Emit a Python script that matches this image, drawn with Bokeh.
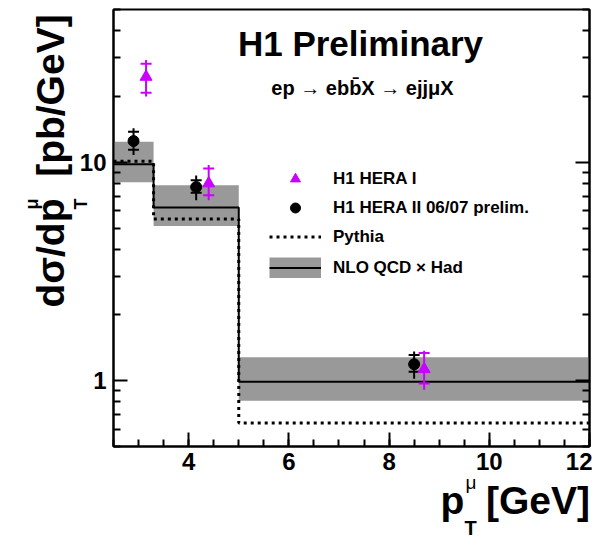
import math
from bokeh.plotting import figure
from bokeh.models import (Range1d, FixedTicker, SingleIntervalTicker, LogAxis, Label,
                          Legend, LegendItem, PrintfTickFormatter, CustomJSTickFormatter)
from bokeh.embed import file_html
from bokeh.resources import INLINE

# ---------------- data ----------------
bin_edges = [2.5, 3.3, 5.0, 12.0]
nlo_central = [9.8, 6.2, 0.99]
nlo_low = [8.1, 5.1, 0.81]
nlo_high = [12.4, 7.85, 1.28]
pythia = [10.1, 5.5, 0.64]

hera2_x = [2.9, 4.15, 8.5]
hera2_y = [12.5, 7.7, 1.19]
hera2_tot_lo = [10.8, 6.7, 1.02]
hera2_tot_hi = [14.3, 8.7, 1.36]
hera2_stat_lo = [11.4, 7.24, 1.10]
hera2_stat_hi = [13.8, 8.27, 1.31]

hera1_x = [3.15, 4.4, 8.7]
hera1_y = [24.6, 8.0, 1.13]
hera1_tot_lo = [20.0, 6.7, 0.91]
hera1_tot_hi = [29.4, 9.7, 1.37]
hera1_stat_lo = [20.8, 7.06, 0.97]
hera1_stat_hi = [28.2, 9.36, 1.34]

y_major_ticks = [1, 10]
y_minor_ticks = [0.5, 0.6, 0.7, 0.8, 0.9, 2, 3, 4, 5, 6, 7, 8, 9, 20, 30, 40, 50]

X_MIN, X_MAX = 2.5, 12.0
Y_MIN, Y_MAX = 0.5, 50.0

MAGENTA = "#cc00ff"
GREY = "#999999"
FONT = "Liberation Sans"

# frame in canvas pixels
FL, FR, FT, FB = 113, 589, 9, 446

p = figure(width=592, height=540, x_range=Range1d(X_MIN, X_MAX), y_range=Range1d(Y_MIN, Y_MAX),
           y_axis_type="log", output_backend="svg", toolbar_location=None,
           min_border_left=FL, min_border_right=592 - FR, min_border_top=FT,
           min_border_bottom=540 - FB)
p.grid.visible = False
p.outline_line_color = "black"
p.outline_line_width = 2
p.background_fill_color = "white"
p.border_fill_color = "white"

yt = FixedTicker(ticks=y_major_ticks, minor_ticks=y_minor_ticks)
for ax in p.yaxis:
    ax.ticker = yt
    ax.formatter = PrintfTickFormatter(format="%d")
for ax in p.xaxis:
    ax.ticker = SingleIntervalTicker(interval=2, num_minor_ticks=4)

def style_axis(ax):
    ax.axis_line_width = 2
    ax.major_tick_in = 14
    ax.major_tick_out = 0
    ax.minor_tick_in = 7
    ax.minor_tick_out = 0
    ax.major_tick_line_width = 2
    ax.minor_tick_line_width = 2
    ax.major_label_text_font = FONT
    ax.major_label_text_font_style = "bold"
    ax.major_label_text_font_size = "24px"
    ax.major_label_text_color = "black"

for ax in p.xaxis + p.yaxis:
    style_axis(ax)
p.yaxis.major_label_standoff = 7
p.xaxis.major_label_standoff = 6

rax = LogAxis(ticker=yt, formatter=CustomJSTickFormatter(code="return ''"))
style_axis(rax)
rax.major_label_text_font_size = "0px"
rax.major_label_standoff = 0
p.add_layout(rax, "right")

# ---------------- theory ----------------
band = p.quad(left=bin_edges[:-1], right=bin_edges[1:], bottom=nlo_low, top=nlo_high,
              fill_color=GREY, line_alpha=0)
step_y = nlo_central + [nlo_central[-1]]
nlo_line = p.step(bin_edges, step_y, mode="after", line_color="black", line_width=2)
py_y = pythia + [pythia[-1]]
py_line = p.step(bin_edges, py_y, mode="after", line_color="black", line_width=3,
                 line_dash="3 4")
# legend-only proxy for the grey uncertainty band (draws nothing in the frame)
nan = float("nan")
band_proxy = p.line([nan], [nan], line_color=GREY, line_width=21, line_cap="butt")

# ---------------- data points ----------------
p.segment(hera2_x, hera2_tot_lo, hera2_x, hera2_tot_hi, line_color="black", line_width=2)
p.scatter(hera2_x + hera2_x, hera2_stat_lo + hera2_stat_hi, marker="dash", size=11,
          line_color="black", line_width=2)
h2 = p.scatter(hera2_x, hera2_y, marker="circle", size=11, fill_color="black", line_color="black")

p.segment(hera1_x, hera1_tot_lo, hera1_x, hera1_tot_hi, line_color=MAGENTA, line_width=2)
p.scatter(hera1_x + hera1_x, hera1_stat_lo + hera1_stat_hi, marker="dash", size=11,
          line_color=MAGENTA, line_width=2)
h1 = p.scatter(hera1_x, hera1_y, marker="triangle", size=12, fill_color=MAGENTA, line_color=MAGENTA)

# ---------------- legends ----------------
def mk_legend(items, gh, spacing, left, bottom):
    lg = Legend(items=items, location=(left - FL, FB - bottom), glyph_width=52, glyph_height=gh,
                spacing=spacing, label_standoff=12, padding=0, margin=0,
                border_line_alpha=0, background_fill_alpha=0,
                label_text_font=FONT, label_text_font_style="bold", label_text_font_size="17px",
                label_text_color="black", label_height=gh)
    p.add_layout(lg)

mk_legend([LegendItem(label="H1 HERA I", renderers=[h1]),
           LegendItem(label="H1 HERA II 06/07 prelim.", renderers=[h2]),
           LegendItem(label="Pythia", renderers=[py_line])], 25, 4, 269, 249)
mk_legend([LegendItem(label="NLO QCD \u00d7 Had", renderers=[band_proxy, nlo_line])], 21, 0, 269, 278)

# ---------------- texts ----------------
def dx(cx):
    return X_MIN + (cx - FL) * (X_MAX - X_MIN) / (FR - FL)

def dy(cy):
    lo, hi = math.log10(Y_MIN), math.log10(Y_MAX)
    return 10 ** (lo + (FB - cy) * (hi - lo) / (FB - FT))

def lab(text, cx, cy, size, align="left", angle=0.0, style="bold", place=None, lh=1.2,
        baseline="middle"):
    lb = Label(x=dx(cx), y=dy(cy), x_units="data", y_units="data", text=text,
               text_font=FONT, text_font_size=f"{size}px", text_font_style=style,
               text_align=align, text_baseline=baseline, angle=angle, text_line_height=lh,
               text_color="black")
    if place is None:
        p.add_layout(lb)
    else:
        p.add_layout(lb, place)

lab("H1 Preliminary", 360, 43, 35, align="center")
lab("ep \u2192 ebb\u0304X \u2192 ejj\u03bcX", 362, 87, 20, align="center")

NB = "\u00a0"
# x title (placed in outer panels so that it is not clipped)
lab("p" + NB + NB + "[GeV]", 440, 500, 39, place="below")
lab("\u03bc", 465, 482, 19, style="normal", place="left")
lab("T", 464, 527, 20, place="left")

# y title (rotated)
R = math.pi / 2
lab("d\u03c3/dp" + NB + NB + "[pb/GeV]", 50, 307, 39, angle=R, place="left")
lab("\u03bc\nT", 56, 209, 18, angle=R, place="below", lh=2.44)

open("out.html", "w").write(file_html(p, INLINE))
